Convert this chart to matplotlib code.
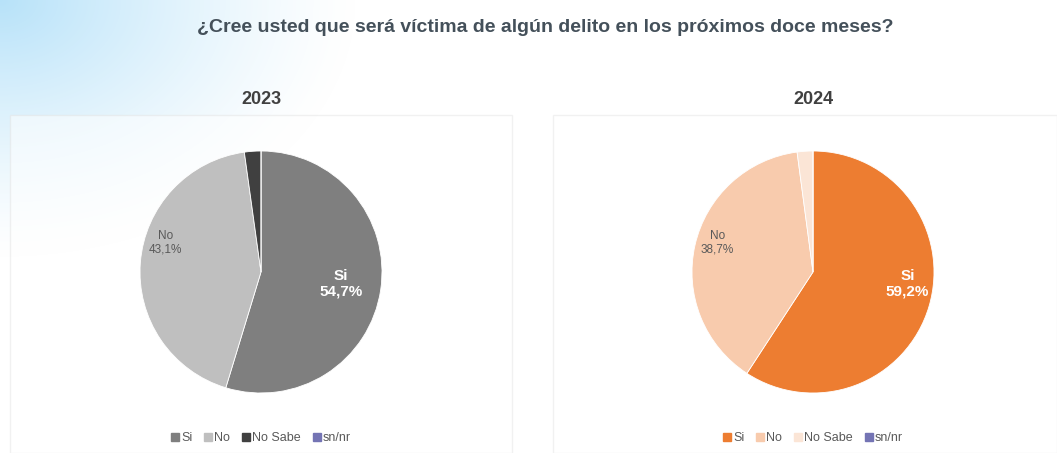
import numpy as np
import matplotlib
matplotlib.use('Agg')
import matplotlib.pyplot as plt
from matplotlib.patches import Rectangle

plt.rcParams['font.family'] = ['Liberation Sans', 'DejaVu Sans']

# datos
categorias = ['Si', 'No', 'No Sabe', 'sn/nr']
anios = ['2023', '2024']
valores_2023 = [54.7, 43.1, 2.2, 0.0]
valores_2024 = [59.2, 38.7, 2.1, 0.0]
titulo = '¿Cree usted que será víctima de algún delito en los próximos doce meses?'

colores_2023 = ['#7f7f7f', '#bfbfbf', '#404040', '#7474b4']
colores_2024 = ['#ed7d31', '#f8cbad', '#fbe5d6', '#7474b4']

W, H = 1057, 453
fig = plt.figure(figsize=(W / 100, H / 100), dpi=100)

# fondo con degradado celeste arriba a la izquierda
bg = fig.add_axes([0, 0, 1, 1], zorder=-10)
yy, xx = np.mgrid[0:H, 0:W]
d = np.sqrt((xx / 360.0) ** 2 + (yy / 260.0) ** 2)
alpha = np.clip(1 - d, 0, 1) ** 1.3
img = np.ones((H, W, 4))
img[..., 0] = 0.72
img[..., 1] = 0.89
img[..., 2] = 0.98
img[..., 3] = alpha
bg.imshow(img, extent=[0, W, H, 0], aspect='auto')
bg.set_xlim(0, W)
bg.set_ylim(H, 0)
bg.axis('off')

# paneles
for x0, x1 in [(10, 512), (553, 1057)]:
    bg.add_patch(Rectangle((x0, 115), x1 - x0, H - 115, facecolor='white',
                           edgecolor='#e4e4e4', lw=1, alpha=0.5))

fig.text(545 / W, 1 - 28 / H, titulo, ha='center', va='center',
         fontsize=14, fontweight='bold', color='#44505a')


def dibujar(cx, valores, colores, anio, pos_si, pos_no):
    r = 121
    ax = fig.add_axes([(cx - r) / W, (H - 272 - r) / H, 2 * r / W, 2 * r / H])
    ax.pie(valores, colors=colores, startangle=90, counterclock=False,
           wedgeprops=dict(linewidth=0.6, edgecolor='white'))
    ax.set_xlim(-1, 1)
    ax.set_ylim(-1, 1)
    ax.set_aspect('equal')
    ax.axis('off')
    ax.text(pos_si[0], pos_si[1], f"{categorias[0]}\n{valores[0]:.1f}%".replace('.', ','),
            ha='center', va='center', color='white', fontsize=11, fontweight='bold',
            linespacing=1.15)
    ax.text(pos_no[0], pos_no[1], f"{categorias[1]}\n{valores[1]:.1f}%".replace('.', ','),
            ha='center', va='center', color='#595959', fontsize=8.5, linespacing=1.15)
    fig.text(cx / W, 1 - 99 / H, anio, ha='center', va='center',
             fontsize=13, fontweight='bold', color='#404040')
    handles = [plt.Line2D([], [], marker='s', ls='', color=c, markersize=5.5)
               for c in colores]
    fig.legend(handles, categorias, loc='center', bbox_to_anchor=(cx / W, 1 - 438 / H),
               ncol=4, frameon=False, fontsize=9, handlelength=0.6, handletextpad=0.15,
               columnspacing=1.0, labelcolor='#595959')


dibujar(261, valores_2023, colores_2023, anios[0], (0.66, -0.1), (-0.79, 0.24))
dibujar(813, valores_2024, colores_2024, anios[1], (0.78, -0.1), (-0.79, 0.24))

fig.savefig('out.png', dpi=100)
